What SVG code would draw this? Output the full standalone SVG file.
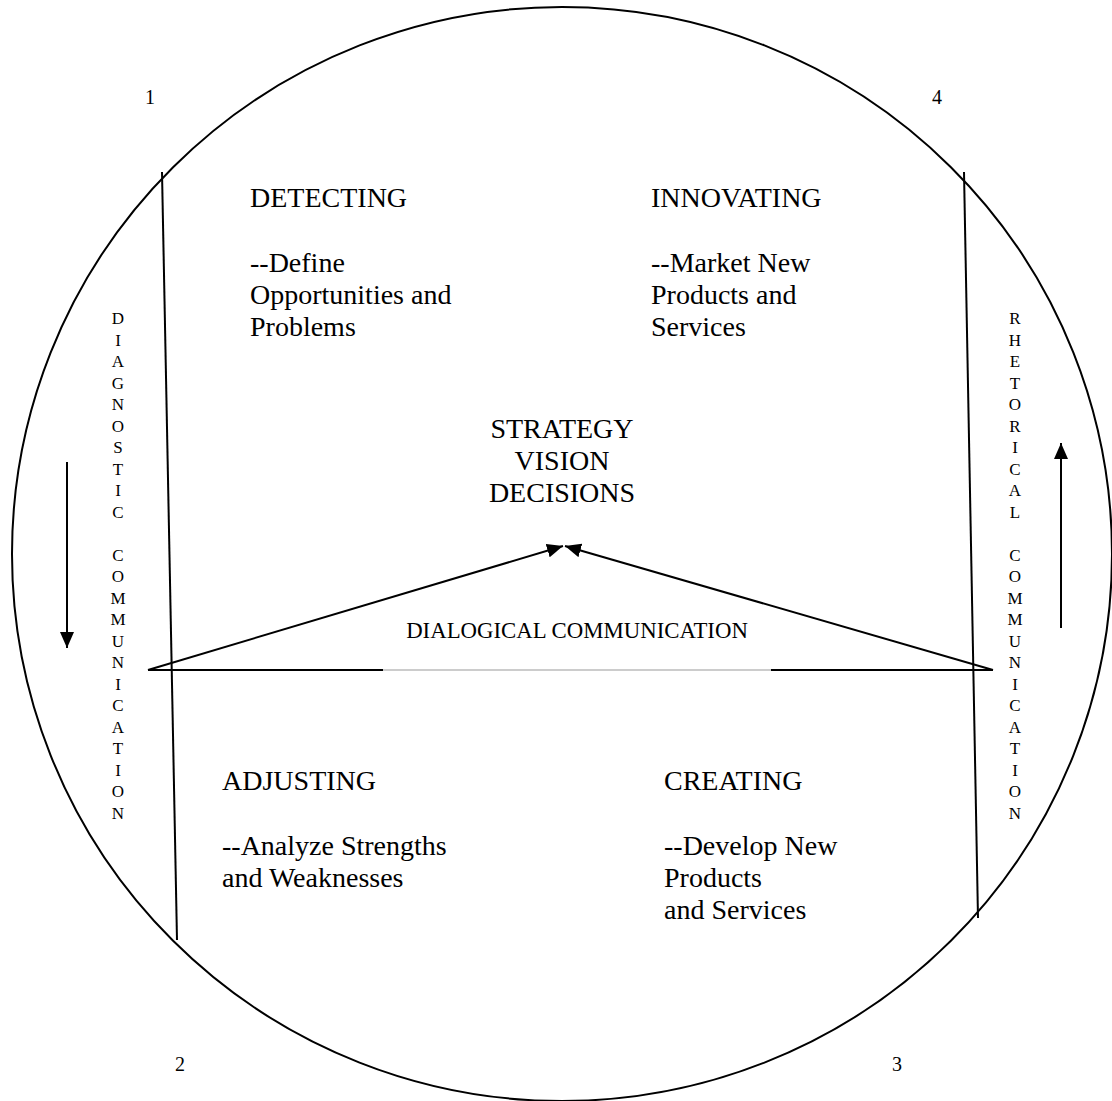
<svg xmlns="http://www.w3.org/2000/svg" width="1112" height="1101" viewBox="0 0 1112 1101">
<defs>
<style>
text{font-family:'Liberation Serif','Times New Roman',Times,serif;fill:#000}
.t{font-size:28px}
.c{text-anchor:middle}
.v{font-size:17px;text-anchor:middle}
.n{font-size:20px;text-anchor:middle}
.d{font-size:22.8px;text-anchor:middle}
.ln{stroke:#000;stroke-width:2;fill:none}
</style>
<marker id="ah2" viewBox="0 0 10 10" refX="10" refY="5" markerWidth="16" markerHeight="14" markerUnits="userSpaceOnUse" orient="auto" preserveAspectRatio="none">
<path d="M0,0 L10,5 L0,10 Z" fill="#000"/>
</marker>
</defs>
<rect width="1112" height="1101" fill="#fff"/>
<g id="circle">
<ellipse cx="562" cy="554" rx="550" ry="547" class="ln" stroke-width="2.2"/>
</g>
<g id="connectors">
<line x1="162" y1="172" x2="177" y2="940" class="ln"/>
<line x1="964" y1="172" x2="978" y2="918" class="ln"/>
<line x1="148" y1="670" x2="383" y2="670" class="ln"/>
<line x1="383" y1="670" x2="771" y2="670" stroke="#bbb" stroke-width="1.5"/>
<line x1="771" y1="670" x2="993" y2="670" class="ln"/>
<line x1="148" y1="670" x2="563" y2="546" class="ln" marker-end="url(#ah2)"/>
<line x1="993" y1="670" x2="565" y2="546" class="ln" marker-end="url(#ah2)"/>
<line x1="67" y1="462" x2="67" y2="648" class="ln" marker-end="url(#ah2)"/>
<line x1="1061" y1="628" x2="1061" y2="443" class="ln" marker-end="url(#ah2)"/>
</g>
<g id="num1"><text class="n" x="150" y="104">1</text></g>
<g id="num4"><text class="n" x="937" y="104">4</text></g>
<g id="num2"><text class="n" x="180" y="1071">2</text></g>
<g id="num3"><text class="n" x="897" y="1071">3</text></g>
<g id="detecting">
<text class="t" x="250" y="207">DETECTING</text>
<text class="t" x="250" y="272">--Define</text>
<text class="t" x="250" y="304">Opportunities and</text>
<text class="t" x="250" y="336">Problems</text>
</g>
<g id="innovating">
<text class="t" x="651" y="207">INNOVATING</text>
<text class="t" x="651" y="272">--Market New</text>
<text class="t" x="651" y="304">Products and</text>
<text class="t" x="651" y="336">Services</text>
</g>
<g id="strategy">
<text class="t c" x="562" y="438">STRATEGY</text>
<text class="t c" x="562" y="470">VISION</text>
<text class="t c" x="562" y="502">DECISIONS</text>
</g>
<g id="dialogical">
<text class="d" x="577" y="638">DIALOGICAL COMMUNICATION</text>
</g>
<g id="adjusting">
<text class="t" x="222" y="790">ADJUSTING</text>
<text class="t" x="222" y="855">--Analyze Strengths</text>
<text class="t" x="222" y="887">and Weaknesses</text>
</g>
<g id="creating">
<text class="t" x="664" y="790">CREATING</text>
<text class="t" x="664" y="855">--Develop New</text>
<text class="t" x="664" y="887">Products</text>
<text class="t" x="664" y="919">and Services</text>
</g>
<g id="diagnostic">
<text class="v" x="118" y="324">D</text>
<text class="v" x="118" y="345.5">I</text>
<text class="v" x="118" y="367">A</text>
<text class="v" x="118" y="388.5">G</text>
<text class="v" x="118" y="410">N</text>
<text class="v" x="118" y="431.5">O</text>
<text class="v" x="118" y="453">S</text>
<text class="v" x="118" y="474.5">T</text>
<text class="v" x="118" y="496">I</text>
<text class="v" x="118" y="517.5">C</text>
<text class="v" x="118" y="560.5">C</text>
<text class="v" x="118" y="582">O</text>
<text class="v" x="118" y="603.5">M</text>
<text class="v" x="118" y="625">M</text>
<text class="v" x="118" y="646.5">U</text>
<text class="v" x="118" y="668">N</text>
<text class="v" x="118" y="689.5">I</text>
<text class="v" x="118" y="711">C</text>
<text class="v" x="118" y="732.5">A</text>
<text class="v" x="118" y="754">T</text>
<text class="v" x="118" y="775.5">I</text>
<text class="v" x="118" y="797">O</text>
<text class="v" x="118" y="818.5">N</text>
</g>
<g id="rhetorical">
<text class="v" x="1015" y="324">R</text>
<text class="v" x="1015" y="345.5">H</text>
<text class="v" x="1015" y="367">E</text>
<text class="v" x="1015" y="388.5">T</text>
<text class="v" x="1015" y="410">O</text>
<text class="v" x="1015" y="431.5">R</text>
<text class="v" x="1015" y="453">I</text>
<text class="v" x="1015" y="474.5">C</text>
<text class="v" x="1015" y="496">A</text>
<text class="v" x="1015" y="517.5">L</text>
<text class="v" x="1015" y="560.5">C</text>
<text class="v" x="1015" y="582">O</text>
<text class="v" x="1015" y="603.5">M</text>
<text class="v" x="1015" y="625">M</text>
<text class="v" x="1015" y="646.5">U</text>
<text class="v" x="1015" y="668">N</text>
<text class="v" x="1015" y="689.5">I</text>
<text class="v" x="1015" y="711">C</text>
<text class="v" x="1015" y="732.5">A</text>
<text class="v" x="1015" y="754">T</text>
<text class="v" x="1015" y="775.5">I</text>
<text class="v" x="1015" y="797">O</text>
<text class="v" x="1015" y="818.5">N</text>
</g>
</svg>
